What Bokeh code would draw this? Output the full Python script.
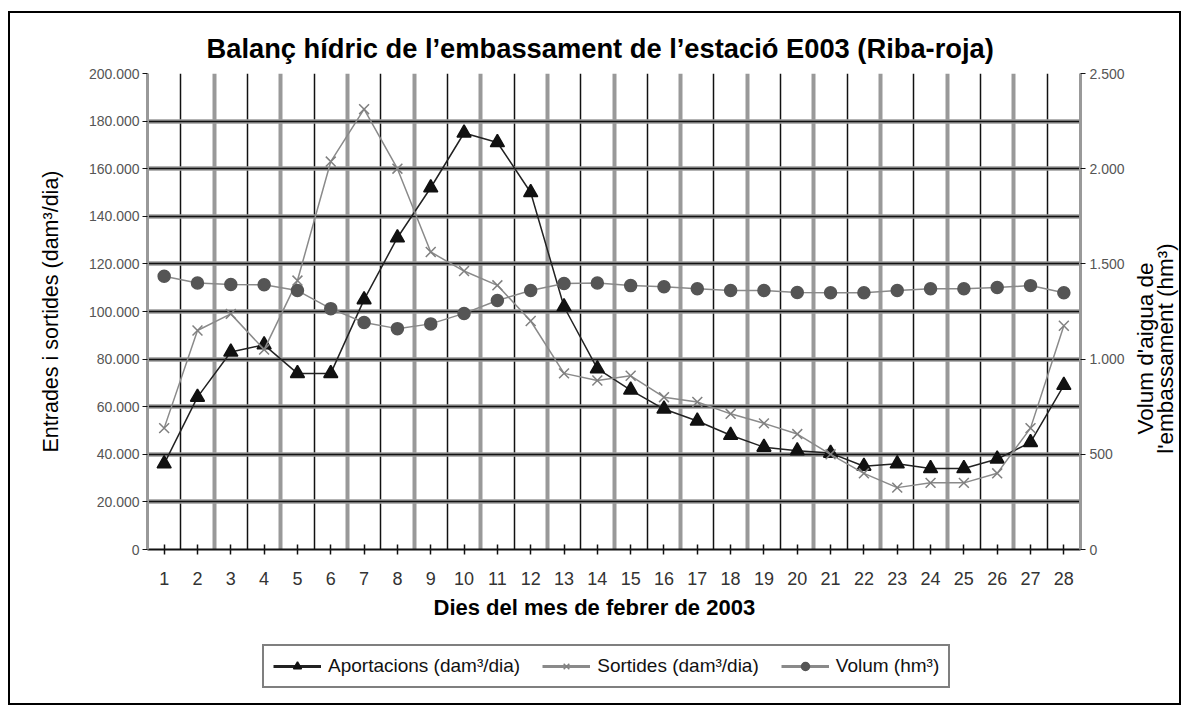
import math
from bokeh.plotting import figure
from bokeh.layouts import column, row
from bokeh.models import (Range1d, LinearAxis, FixedTicker, Grid, Legend, LegendItem,
                          CustomJSTickFormatter, Title, Label)
from bokeh.embed import file_html
from bokeh.resources import INLINE

# ---- data ----
days = list(range(1, 29))
day_labels = [str(d) for d in days]
aportacions = [36000, 64000, 83000, 86000, 74000, 74000, 105000, 131000, 152000, 175000,
               171000, 150000, 102000, 76000, 67000, 59000, 54000, 48000, 43000, 41500,
               40500, 35000, 36000, 34000, 34000, 38000, 45000, 69000]
sortides = [51000, 92000, 99000, 84000, 113000, 163000, 185000, 160000, 125000, 117000,
            111000, 96000, 74000, 71000, 73000, 64000, 62000, 57000, 53000, 48500,
            40000, 32000, 26000, 28000, 28000, 32000, 51000, 94000]
volum = [1435, 1400, 1392, 1390, 1360, 1265, 1192, 1160, 1185, 1240,
         1308, 1360, 1397, 1400, 1386, 1380, 1370, 1360, 1360, 1350,
         1348, 1348, 1360, 1370, 1370, 1376, 1386, 1348]
left_ticks = [0, 20000, 40000, 60000, 80000, 100000, 120000, 140000, 160000, 180000, 200000]
right_ticks = [0, 500, 1000, 1500, 2000, 2500]
series_names = ["Aportacions (dam³/dia)", "Sortides (dam³/dia)", "Volum (hm³)"]
right_title_lines = ["Volum d'aigua de", "l'embassament (hm³)"]

FONT = "Liberation Sans"
P_W = 1120
R_W = 49
H = 690

p = figure(width=P_W, height=621, output_backend="svg", toolbar_location=None,
           x_range=Range1d(0.5, 28.5), y_range=Range1d(0, 200000),
           min_border_left=137, min_border_right=50, min_border_top=60, min_border_bottom=85)
p.extra_y_ranges = {"vol": Range1d(0, 2500)}
p.outline_line_color = None
p.background_fill_color = "white"

p.title = Title(text="Balanç hídric de l’embassament de l’estació E003 (Riba-roja)",
                align="left", offset=59, text_font=FONT, text_font_size="27.3px",
                text_font_style="bold", text_color="black", standoff=20)

# grids
p.xgrid.visible = False
p.ygrid.visible = False
xb = [i + 0.5 for i in range(0, 29)]
p.add_layout(Grid(dimension=0, ticker=FixedTicker(ticks=xb[0::2]),
                  grid_line_color="#999999", grid_line_width=4))
p.add_layout(Grid(dimension=0, ticker=FixedTicker(ticks=xb[1::2]),
                  grid_line_color="#111111", grid_line_width=1.5))
p.add_layout(Grid(dimension=1, ticker=FixedTicker(ticks=left_ticks[1:]),
                  grid_line_color="#9a9a9a", grid_line_width=4.5))
p.add_layout(Grid(dimension=1, ticker=FixedTicker(ticks=left_ticks[1:-1]),
                  grid_line_color="#111111", grid_line_width=1.5))

fmt = CustomJSTickFormatter(code="""
return Math.round(tick).toString().replace(/\\B(?=(\\d{3})+(?!\\d))/g, '.');
""")

# x axis
xa = p.xaxis[0]
xa.ticker = FixedTicker(ticks=days)
xa.major_label_overrides = {d: s for d, s in zip(days, day_labels)}
xa.major_label_text_font = FONT
xa.major_label_text_font_size = "18px"
xa.major_label_text_color = "#333333"
xa.major_label_standoff = 17
xa.axis_line_color = "#111111"
xa.axis_line_width = 2
xa.major_tick_in = 5
xa.major_tick_out = 5
xa.major_tick_line_width = 1.5
xa.major_tick_line_color = "#111111"
xa.minor_tick_line_color = None

# x-axis title placed under the axis
p.add_layout(Title(text="Dies del mes de febrer de 2003", align="left", offset=286,
                   text_font=FONT, text_font_size="22px", text_font_style="bold",
                   text_color="black", standoff=10), "below")

# left axis
ya = p.yaxis[0]
ya.ticker = FixedTicker(ticks=left_ticks)
ya.formatter = fmt
ya.axis_label = "Entrades i sortides (dam³/dia)"
ya.axis_label_text_font = FONT
ya.axis_label_text_font_style = "normal"
ya.axis_label_text_font_size = "21.5px"
ya.axis_label_text_color = "black"
ya.axis_label_standoff = 23
ya.major_label_text_font = FONT
ya.major_label_text_font_size = "14px"
ya.major_label_text_color = "#555555"
ya.major_label_standoff = 3
ya.axis_line_color = "#999999"
ya.axis_line_width = 3
ya.major_tick_in = 0
ya.major_tick_out = 5
ya.major_tick_line_color = "#111111"
ya.minor_tick_line_color = None

# right axis (ticks only; its title is drawn in the side strip)
ra = LinearAxis(y_range_name="vol", ticker=FixedTicker(ticks=right_ticks), formatter=fmt)
ra.major_label_text_font = FONT
ra.major_label_text_font_size = "14px"
ra.major_label_text_color = "#555555"
ra.major_label_standoff = 4
ra.axis_line_color = "#999999"
ra.axis_line_width = 3
ra.major_tick_in = 0
ra.major_tick_out = 5
ra.major_tick_line_color = "#111111"
ra.minor_tick_line_color = None
p.add_layout(ra, "right")

# series styles
STY = [
    dict(line="#222222", marker="triangle", size=14, fill="#111111", mline="#111111"),
    dict(line="#8a8a8a", marker="x", size=14, fill=None, mline="#808080"),
    dict(line="#8a8a8a", marker="circle", size=12, fill="#555555", mline="#555555"),
]

def draw(fig, xs, ys, st, lw=1.5, **kw):
    l = fig.line(xs, ys, line_color=st["line"], line_width=lw, **kw)
    s = fig.scatter(xs, ys, marker=st["marker"], size=st["size"], fill_color=st["fill"],
                    line_color=st["mline"], line_width=1.5, **kw)
    return l, s

draw(p, days, aportacions, STY[0])
draw(p, days, sortides, STY[1])
draw(p, days, volum, STY[2], y_range_name="vol")

# legend strip (separate figure; the same series drawn outside its visible range)
lg = figure(width=P_W, height=H - 621, output_backend="svg", toolbar_location=None,
            x_range=Range1d(-3, -2), y_range=Range1d(0, 200000),
            x_axis_location=None, y_axis_location=None, min_border=0)
lg.extra_y_ranges = {"vol": Range1d(0, 2500)}
lg.outline_line_color = None
lg.xgrid.visible = False
lg.ygrid.visible = False
items = []
for name, st, ys, kw in zip(series_names, STY, [aportacions, sortides, volum],
                            [{}, {}, {"y_range_name": "vol"}]):
    l, s = draw(lg, days, ys, st, lw=3, **kw)
    items.append(LegendItem(label=name, renderers=[l, s]))
legend = Legend(items=items, orientation="horizontal", location=(115, 15),
                label_text_font=FONT, label_text_font_size="19px", label_text_color="#111111",
                border_line_color="black", border_line_width=2, glyph_width=48, spacing=22,
                padding=9, margin=0, label_standoff=7, background_fill_alpha=1)
lg.add_layout(legend, "center")

# right-hand title strip
rf = figure(width=R_W, height=H, output_backend="svg", toolbar_location=None,
            x_range=Range1d(0, R_W), y_range=Range1d(0, H),
            x_axis_location=None, y_axis_location=None, min_border=0)
rf.outline_line_color = None
rf.xgrid.visible = False
rf.ygrid.visible = False
for i, txt in enumerate(right_title_lines):
    rf.add_layout(Label(x=15 + 20 * i, y=H - 335, text=txt, angle=90, angle_units="deg",
                        text_align="center", text_baseline="middle", text_font=FONT,
                        text_font_size="22.5px", text_color="black"))

layout = row(column(p, lg, spacing=0), rf, spacing=0,
             styles={"border": "2px solid black", "margin-left": "8px", "margin-top": "11px"})

open("out.html", "w").write(file_html(layout, INLINE))
